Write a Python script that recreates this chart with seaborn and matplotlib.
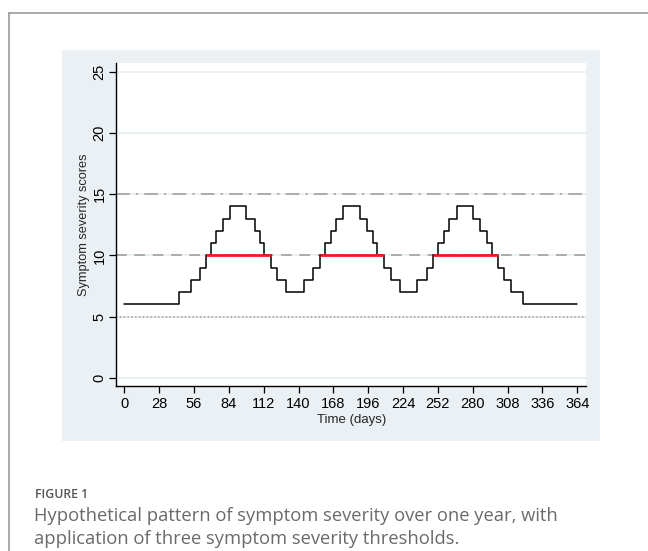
import matplotlib
matplotlib.use("Agg")
import matplotlib.pyplot as plt
from matplotlib.patches import Rectangle
from matplotlib.lines import Line2D
import seaborn as sns
import pandas as pd

# ---- data ----
change_days = [0, 44, 54, 61, 66, 70, 74, 79, 85, 98, 105, 109, 112.5, 118, 123, 130, 144.5,
               152, 157, 161, 166, 170, 176, 189.5, 195, 200, 203, 209, 214, 221.5, 235,
               243, 248, 252, 257, 261, 267, 280, 286, 291.5, 295.5, 300, 305, 311, 320.5, 364]
scores = [6, 7, 8, 9, 10, 11, 12, 13, 14, 13, 12, 11, 10, 9, 8, 7,
          8, 9, 10, 11, 12, 13, 14, 13, 12, 11, 10, 9, 8, 7,
          8, 9, 10, 11, 12, 13, 14, 13, 12, 11, 10, 9, 8, 7, 6, 6]
thresholds = [5, 10, 15]
threshold_styles = [(0, (1, 1.5)), (0, (7, 5)), (0, (9, 4, 1.5, 4))]
red_starts = [66, 157, 248]
red_ends = [118, 209, 300]
red_level = 10
x_ticks = list(range(0, 365, 28))
y_ticks = [0, 5, 10, 15, 20, 25]

df = pd.DataFrame({"day": change_days, "score": scores})

sns.set_theme(style="white")
plt.rcParams["font.family"] = ["Liberation Sans", "DejaVu Sans"]

W, H = 648, 551
fig = plt.figure(figsize=(W / 100, H / 100), dpi=100)
fig.patch.set_facecolor("white")

# page frame lines
fig.add_artist(Line2D([9 / W, 1], [1 - 13 / H, 1 - 13 / H], color="#9a9a9a", lw=1.2))
fig.add_artist(Line2D([9 / W, 9 / W], [0, 1 - 13 / H], color="#9a9a9a", lw=1.2))

# chart panel background
fig.add_artist(Rectangle((62 / W, 1 - 441 / H), (600 - 62) / W, (441 - 50) / H,
                         transform=fig.transFigure, facecolor="#eaf0f3", edgecolor="none", zorder=0))

ax_l, ax_r, ax_t, ax_b = 116.3, 586, 63.3, 386
ax = fig.add_axes([ax_l / W, 1 - ax_b / H, (ax_r - ax_l) / W, (ax_b - ax_t) / H])
ax.set_facecolor("white")

# light gridlines
for yv in y_ticks:
    ax.axhline(yv, color="#eaf1f3", lw=1.4, zorder=0.5)

# threshold lines
for t, ls in zip(thresholds, threshold_styles):
    ax.hlines(t, -6.4, 371, colors="#9a9a9a", linestyles=[ls], lw=1.1, zorder=1)

sns.lineplot(data=df, x="day", y="score", drawstyle="steps-post", color="black",
             lw=1.1, ax=ax, zorder=3, estimator=None)

ax.hlines([red_level] * len(red_starts), red_starts, red_ends, colors="#ee1c24", lw=2.0, zorder=4)

ax.set_xlim(-6.4, 371)
ax.set_ylim(-0.66, 25.69)
ax.set_xticks(x_ticks)
ax.set_yticks(y_ticks)
ax.set_xticklabels([str(v) for v in x_ticks], fontsize=10.5)
ax.set_yticklabels([str(v) for v in y_ticks], fontsize=10.5, rotation=90, va="center")
ax.tick_params(axis="x", which="major", direction="out", length=5, width=0.9,
               color="black", bottom=True, pad=3, labelcolor="black")
ax.tick_params(axis="y", which="major", direction="out", length=5, width=0.9,
               color="black", left=True, pad=2, labelcolor="black")
for s in ["top", "right"]:
    ax.spines[s].set_visible(False)
for s in ["left", "bottom"]:
    ax.spines[s].set_color("black")
    ax.spines[s].set_linewidth(1.0)

ax.set_xlabel("Time (days)", fontsize=9.5, labelpad=2)
ax.set_ylabel("Symptom severity scores", fontsize=9.2, labelpad=2)

# caption
cap_font = ["Open Sans", "DejaVu Sans"]
fig.text(35 / W, 1 - 495 / H, "FIGURE 1", fontsize=8.8, color="#555555",
         family=cap_font, fontweight="semibold", va="center")
fig.text(34 / W, 1 - 516 / H, "Hypothetical pattern of symptom severity over one year, with",
         fontsize=13.2, color="#6a6a6a", family=cap_font, va="center")
fig.text(34 / W, 1 - 539 / H, "application of three symptom severity thresholds.",
         fontsize=13.2, color="#6a6a6a", family=cap_font, va="center")

fig.savefig("out.png", dpi=100)
